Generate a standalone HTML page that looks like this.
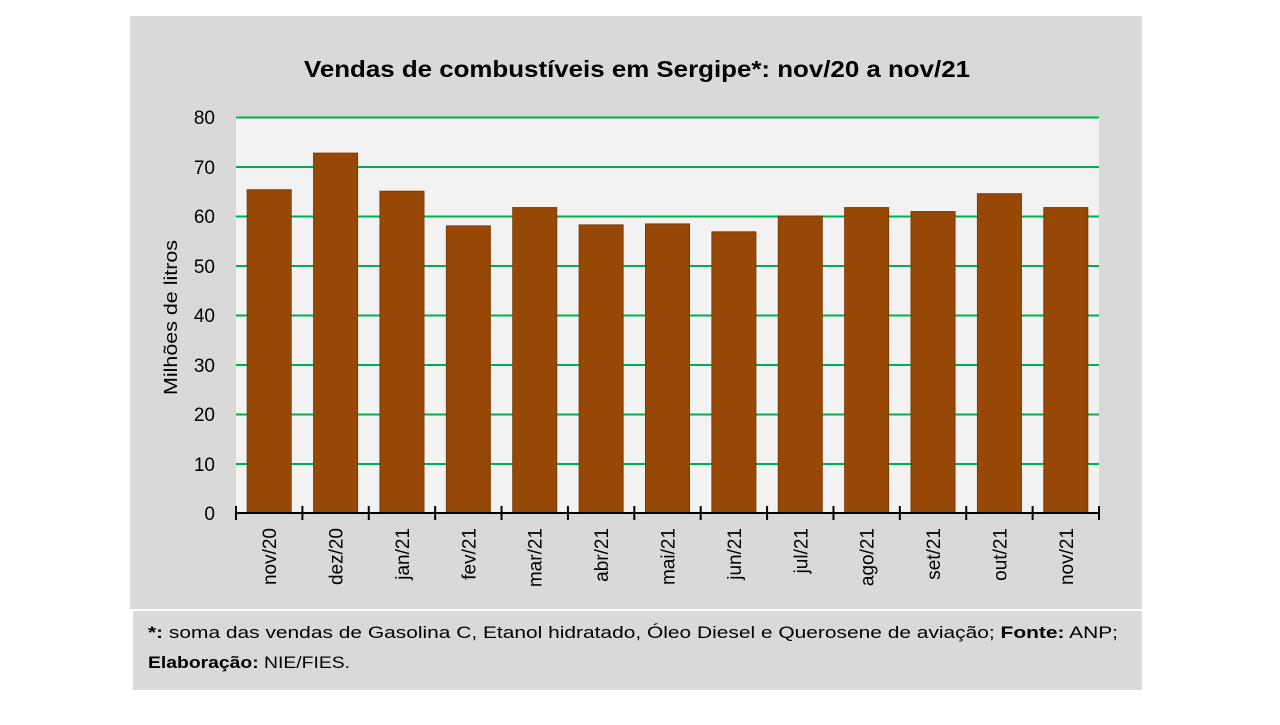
<!DOCTYPE html><html><head><style>body{margin:0;background:#fff;width:1280px;height:720px;overflow:hidden;font-family:"Liberation Sans",sans-serif}</style></head><body>
<svg width="1280" height="720" xmlns="http://www.w3.org/2000/svg" font-family="Liberation Sans, sans-serif">
<rect x="130" y="16" width="1012" height="674" fill="#d9d9d9"/>
<rect x="130" y="609" width="1012" height="2" fill="#fff"/>
<rect x="130" y="611" width="3" height="79" fill="#fff"/>
<text x="304" y="77" font-size="23" font-weight="bold" fill="#000" textLength="666" lengthAdjust="spacingAndGlyphs">Vendas de combustíveis em Sergipe*: nov/20 a nov/21</text>
<rect x="236" y="117" width="863" height="396" fill="#f2f2f2"/>
<g stroke="#00b050" stroke-width="2">
<line x1="236" x2="1099" y1="117.5" y2="117.5"/><line x1="236" x2="1099" y1="167" y2="167"/><line x1="236" x2="1099" y1="216.5" y2="216.5"/><line x1="236" x2="1099" y1="266" y2="266"/><line x1="236" x2="1099" y1="315.5" y2="315.5"/><line x1="236" x2="1099" y1="365" y2="365"/><line x1="236" x2="1099" y1="414.5" y2="414.5"/><line x1="236" x2="1099" y1="464" y2="464"/></g>
<g font-size="19" fill="#000" text-anchor="end">
<text x="215" y="124">80</text><text x="215" y="174">70</text><text x="215" y="223">60</text><text x="215" y="273">50</text><text x="215" y="322">40</text><text x="215" y="372">30</text><text x="215" y="421">20</text><text x="215" y="471">10</text><text x="215" y="520">0</text></g>
<text transform="translate(177,395) rotate(-90)" font-size="18" textLength="155" lengthAdjust="spacingAndGlyphs">Milhões de litros</text>
<g fill="#974706" stroke="#7a3a05" stroke-width="1" id="bars"></g>
<line x1="236" x2="1099" y1="513" y2="513" stroke="#000" stroke-width="2"/>
<g id="ticks" stroke="#000" stroke-width="2"></g>
<g id="labels" font-size="19"></g>
<text x="148" y="638" font-size="17" textLength="970" lengthAdjust="spacingAndGlyphs"><tspan font-weight="bold">*:</tspan> soma das vendas de Gasolina C, Etanol hidratado, Óleo Diesel e Querosene de aviação; <tspan font-weight="bold">Fonte:</tspan> ANP;</text>
<text x="148" y="668" font-size="17" textLength="202" lengthAdjust="spacingAndGlyphs"><tspan font-weight="bold">Elaboração:</tspan> NIE/FIES.</text>
</svg>
<script>
const v=[65.3,72.7,65,58,61.7,58.2,58.4,56.8,60,61.7,60.9,64.5,61.7];
const l=["nov/20","dez/20","jan/21","fev/21","mar/21","abr/21","mai/21","jun/21","jul/21","ago/21","set/21","out/21","nov/21"];
const ns="http://www.w3.org/2000/svg",w=863/13;
const b=document.getElementById("bars"),t=document.getElementById("ticks"),lb=document.getElementById("labels");
for(let i=0;i<=13;i++){const x=236+i*w;const e=document.createElementNS(ns,"line");e.setAttribute("x1",x);e.setAttribute("x2",x);e.setAttribute("y1",506);e.setAttribute("y2",520);t.appendChild(e);}
v.forEach((d,i)=>{const cx=236+(i+0.5)*w,h=d*4.95;const r=document.createElementNS(ns,"rect");r.setAttribute("x",cx-22);r.setAttribute("width",44);r.setAttribute("y",513-h);r.setAttribute("height",h);b.appendChild(r);
const tx=document.createElementNS(ns,"text");tx.setAttribute("transform",`translate(${cx+7},528) rotate(-90)`);tx.setAttribute("text-anchor","end");tx.textContent=l[i];lb.appendChild(tx);});
</script>
</body></html>
